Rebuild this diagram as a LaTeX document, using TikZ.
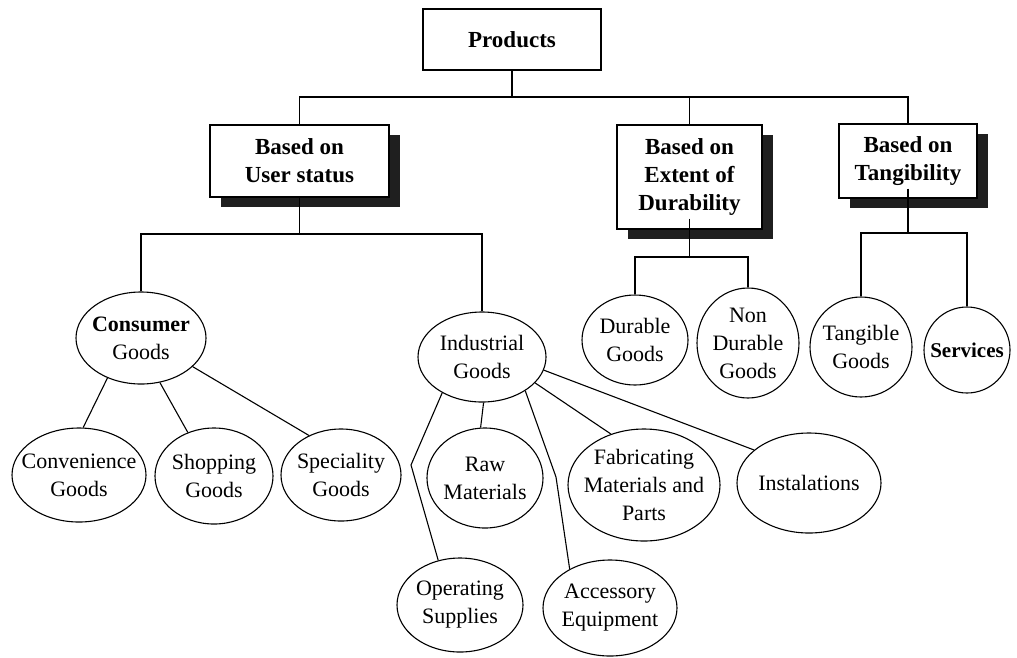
\documentclass[tikz,border=0pt]{standalone}
\usepackage{fontspec}
\setmainfont{Liberation Serif}
\usetikzlibrary{shapes.geometric,shadows}
\begin{document}
\begin{tikzpicture}[x=1pt,y=-1pt,
  conn/.style={line width=1.1pt},
  catbox/.style={draw,line width=1.1pt,fill=white,rectangle,inner sep=0pt,align=center,
    font=\fontsize{23}{28}\selectfont\bfseries},
  shbox/.style={catbox,drop shadow={shadow xshift=11pt,shadow yshift=-10pt,fill=black!88,opacity=1}},
  oval/.style={draw,line width=1.1pt,ellipse,inner sep=0pt},
  lbl/.style={align=center,inner sep=0pt,font=\fontsize{22}{28}\selectfont},
  blbl/.style={align=center,inner sep=0pt,font=\fontsize{21}{28}\selectfont\bfseries}
]
\useasboundingbox (0,0) rectangle (1017,657);

% category boxes
\node[catbox,minimum width=178pt,minimum height=61pt] (prod) at (512,39.5) {Products};
\node[shbox,minimum width=179pt,minimum height=72pt] (user) at (299.5,161) {Based on\\User status};
\node[shbox,minimum width=145pt,minimum height=104pt] (dur) at (689.5,177) {Based on\\Extent of\\Durability};
\node[shbox,minimum width=138pt,minimum height=74pt] (tang) at (908,161) {Based on\\Tangibility};

% ovals
\node[oval,minimum width=130pt,minimum height=92pt,label={[lbl]center:{\textbf{Consumer}\\Goods}}] (cons) at (141,338) {};
\node[oval,minimum width=128pt,minimum height=90pt,label={[lbl]center:{Industrial\\Goods}}] (ind) at (482,357) {};
\node[oval,minimum width=134pt,minimum height=94pt,label={[lbl]center:{Convenience\\Goods}}] (conv) at (79,475) {};
\node[oval,minimum width=118pt,minimum height=96pt,label={[lbl]center:{Shopping\\Goods}}] (shop) at (214,476) {};
\node[oval,minimum width=120pt,minimum height=92pt,label={[lbl]center:{Speciality\\Goods}}] (spec) at (341,475) {};
\node[oval,minimum width=116pt,minimum height=100pt,label={[lbl]center:{Raw\\Materials}}] (raw) at (485,478) {};
\node[oval,minimum width=152pt,minimum height=112pt,label={[lbl]center:{Fabricating\\Materials and\\Parts}}] (fab) at (644,485) {};
\node[oval,minimum width=144pt,minimum height=100pt,label={[lbl]center:{Instalations}}] (inst) at (809,483) {};
\node[oval,minimum width=126pt,minimum height=94pt,label={[lbl]center:{Operating\\Supplies}}] (oper) at (460,605) {};
\node[oval,minimum width=134pt,minimum height=96pt,label={[lbl]center:{Accessory\\Equipment}}] (acc) at (610,608) {};
\node[oval,minimum width=106pt,minimum height=90pt,label={[lbl]center:{Durable\\Goods}}] (durg) at (635,340) {};
\node[oval,minimum width=102pt,minimum height=110pt,label={[lbl]center:{Non\\Durable\\Goods}}] (ndur) at (748,343) {};
\node[oval,minimum width=102pt,minimum height=100pt,label={[lbl]center:{Tangible\\Goods}}] (tgood) at (861,347) {};
\node[oval,minimum width=86pt,minimum height=86pt,label={[blbl]center:{Services}}] (serv) at (967,350) {};

% tree coordinates
\coordinate (hb) at (0,97);
\coordinate (hu) at (0,234);
\coordinate (hd) at (0,257);
\coordinate (ht) at (0,233);
\coordinate (bo) at (411,465);
\coordinate (ba) at (556,477);

% top level
\draw[conn] (prod.south) -- (prod.south |- hb);
\draw[conn] (user.north) -- (user.north |- hb) -- (tang.north |- hb) -- (tang.north);
\draw[conn] (dur.north) -- (dur.north |- hb);

% user status branch
\draw[conn] (user.south) -- (user.south |- hu);
\draw[conn] (cons.north) -- (cons.north |- hu) -- (ind.north |- hu) -- (ind.north);

% durability branch
\draw[conn] (dur.south) ++(0,-11) -- (dur.south |- hd);
\draw[conn] (durg.north) -- (durg.north |- hd) -- (ndur.north |- hd) -- (ndur.north);

% tangibility branch
\draw[conn] (tang.south) ++(0,-10) -- (tang.south |- ht);
\draw[conn] (tgood.north) -- (tgood.north |- ht) -- (serv.north |- ht) -- (serv.north);

% consumer goods
\draw[conn] (cons.-130) -- (conv.85);
\draw[conn] (cons.-67) -- (shop.121);
\draw[conn] (cons.-29) -- (spec.129);

% industrial goods
\draw[conn] (ind.-138) -- (bo) -- (oper.116);
\draw[conn] (ind.-88) -- (raw.95);
\draw[conn] (ind.-38) -- (ba) -- (acc.136);
\draw[conn] (ind.-26) -- (fab.123);
\draw[conn] (ind.-12.5) -- (inst.149);
\end{tikzpicture}
\end{document}
